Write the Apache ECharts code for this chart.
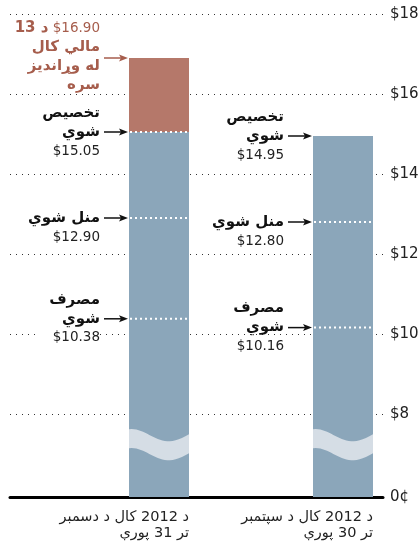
<!DOCTYPE html>
<html><head><meta charset="utf-8">
<script src="https://cdn.jsdelivr.net/npm/echarts@6/dist/echarts.min.js"></script>
<style>html,body{margin:0;padding:0;background:#fff}#c{width:420px;height:541px}</style>
</head><body><div id="c"></div>
<script>
// ---------------- data ----------------
const categories = ['د 2012 کال د دسمبر\nتر 31 پورې', 'د 2012 کال د سپتمبر\nتر 30 پورې'];
const allocated = [15.05, 14.95];   // تخصيص شوي
const accepted  = [12.90, 12.80];   // منل شوي
const spent     = [10.38, 10.16];   // مصرف شوي
const proposed  = [16.90, null];    // د 13 مالي کال له وړاندیز سره
const yTickValues = [8, 10, 12, 14, 16, 18];
const zeroLabel = '0¢';
const allocatedLines = ['تخصيص', 'شوي'];
const acceptedLines  = ['منل شوي'];
const spentLines     = ['مصرف', 'شوي'];
const proposedLines  = ['د 13', 'مالي کال', 'له وړاندیز', 'سره'];

// ---------------- style ----------------
const FONT = '"DejaVu Sans", sans-serif';
const BLUE = '#8ba6ba', RED = '#b5786a', RED_TEXT = '#a65d4c', BAND = '#d5dde5', INK = '#111';
const BAR_W = 60, LH = 19, TEXT_GAP = 29;
const AXIS_START = 5.925;      // value drawn where the (broken) axis reaches 0
const BAND_AT = 7.62;          // where the wavy break sits on the bars
const GRID_TOP = 14, GRID_BOTTOM = 44;

const money = v => '$' + v.toFixed(2);
const wrap = (st, lines) => lines.map(l => '{' + st + '|' + l + '}').join('\n');

// annotation rows built from the arrays above
const rows = [];
proposed.forEach((v, i) => { if (v != null) rows.push({cat: i, value: v, red: true, anchor: 1.55,
  text: '{rb|' + proposedLines[0] + '}{rn| ' + money(v) + '}\n' + wrap('rb', proposedLines.slice(1))}); });
allocated.forEach((v, i) => rows.push({cat: i, value: v, anchor: 1,
  text: wrap('b', allocatedLines) + '\n{n|' + money(v) + '}'}));
accepted.forEach((v, i) => rows.push({cat: i, value: v, anchor: 0,
  text: wrap('b', acceptedLines) + '\n{n|' + money(v) + '}'}));
spent.forEach((v, i) => rows.push({cat: i, value: v, anchor: 1,
  text: wrap('b', spentLines) + '\n{m|' + money(v) + '}'}));

// white dotted level lines inside the bars
const levels = [];
accepted.forEach((v, i) => levels.push([i, v]));
spent.forEach((v, i) => levels.push([i, v]));
proposed.forEach((v, i) => { if (v != null) levels.push([i, allocated[i]]); });

const rich = {
  b:  {fontFamily: FONT, fontWeight: 'bold', fontSize: 15, fill: INK, lineHeight: LH},
  n:  {fontFamily: FONT, fontSize: 13.5, fill: '#222', lineHeight: LH},
  m:  {fontFamily: FONT, fontSize: 13.5, fill: '#222', lineHeight: LH, backgroundColor: '#fff', padding: [0, 0, 0, 14]},
  rb: {fontFamily: FONT, fontWeight: 'bold', fontSize: 15, fill: RED_TEXT, lineHeight: LH},
  rn: {fontFamily: FONT, fontSize: 13.5, fill: RED_TEXT, lineHeight: LH}
};

function annotationItem(params, api) {
  const r = rows[params.dataIndex];
  const p = api.coord([r.cat, r.value]);
  const barLeft = p[0] - BAR_W / 2;
  const tx = barLeft - TEXT_GAP;
  const y = p[1];
  const c = r.red ? RED_TEXT : INK;
  return {type: 'group', children: [
    {type: 'line', shape: {x1: tx + 4, y1: y, x2: barLeft - 8, y2: y}, style: {stroke: c, lineWidth: 1.5}},
    {type: 'polygon', shape: {points: [[barLeft - 1, y], [barLeft - 10, y - 3.5], [barLeft - 8, y], [barLeft - 10, y + 3.5]]}, style: {fill: c}},
    {type: 'text', x: tx, y: y - (r.anchor + 0.5) * LH, style: {text: r.text, rich: rich, align: 'right', verticalAlign: 'top', fontFamily: FONT}}
  ]};
}

function levelItem(params, api) {
  const p = api.coord([api.value(0), api.value(1)]);
  return {type: 'line', shape: {x1: p[0] - BAR_W / 2 + 1, y1: p[1], x2: p[0] + BAR_W / 2, y2: p[1]},
    style: {stroke: '#fff', lineWidth: 2, lineDash: [2, 3]}};
}

function bez(t, a, b, c, d) { const u = 1 - t; return u*u*u*a + 3*u*u*t*b + 3*u*t*t*c + t*t*t*d; }
function bandItem(params, api) {
  const p = api.coord([api.value(0), api.value(1)]);
  const L = p[0] - BAR_W / 2, W = BAR_W, t0 = p[1], TH = 19;
  const top = [], bot = [];
  for (let k = 0; k <= 24; k++) {
    const t = k / 24;
    const x = bez(t, L, L + 0.35 * W, L + 0.5 * W, L + W);
    const y = bez(t, t0, t0 - 2, t0 + 24, t0 + 5);
    top.push([x, y]); bot.unshift([x, y + TH]);
  }
  return {type: 'polygon', shape: {points: top.concat(bot)}, style: {fill: BAND}};
}

const chart = echarts.init(document.getElementById('c'), null, {renderer: 'canvas'});
chart.setOption({
  animation: false,
  backgroundColor: '#fff',
  grid: [
    {left: 67, width: 368, top: GRID_TOP, bottom: GRID_BOTTOM, outerBoundsMode: 'none', containLabel: false},   // bars
    {left: 10, right: 37, top: GRID_TOP, bottom: GRID_BOTTOM, outerBoundsMode: 'none', containLabel: false},    // value axis + grid lines
    {left: 97, width: 368, top: GRID_TOP, bottom: GRID_BOTTOM, outerBoundsMode: 'none', containLabel: false}    // category labels
  ],
  xAxis: [
    {type: 'category', gridIndex: 0, data: categories, show: false},
    {type: 'value', gridIndex: 1, min: 0, max: 1, axisLabel: {show: false}, axisTick: {show: false}, splitLine: {show: false},
      axisLine: {show: true, onZero: false, lineStyle: {color: '#000', width: 3}}},
    {type: 'category', gridIndex: 2, data: categories, axisLine: {show: false}, axisTick: {show: false},
      axisLabel: {align: 'right', margin: 12, fontFamily: FONT, fontSize: 14.5, lineHeight: 16, color: '#222'}}
  ],
  yAxis: [
    {type: 'value', gridIndex: 0, min: AXIS_START, max: 18, show: false},
    {type: 'value', gridIndex: 1, position: 'right', min: AXIS_START, max: 18,
      axisLine: {show: false},
      axisTick: {show: false, customValues: [AXIS_START].concat(yTickValues)},
      splitLine: {show: true, lineStyle: {color: '#333', width: 1, type: [1, 5]}},
      axisLabel: {customValues: [AXIS_START].concat(yTickValues), margin: 7, fontFamily: FONT, fontSize: 15, color: '#222',
        formatter: v => v < yTickValues[0] ? zeroLabel : '$' + Math.round(v)}},
    {type: 'value', gridIndex: 2, show: false}
  ],
  series: [
    {type: 'bar', name: 'allocated', xAxisIndex: 0, yAxisIndex: 0, stack: 's', barWidth: BAR_W, data: allocated, itemStyle: {color: BLUE}, z: 2},
    {type: 'bar', name: 'proposed', xAxisIndex: 0, yAxisIndex: 0, stack: 's', barWidth: BAR_W,
      data: proposed.map((v, i) => v == null ? null : +(v - allocated[i]).toFixed(2)), itemStyle: {color: RED}, z: 2},
    {type: 'custom', xAxisIndex: 0, yAxisIndex: 0, renderItem: bandItem, data: categories.map((c, i) => [i, BAND_AT]), z: 3, silent: true},
    {type: 'custom', xAxisIndex: 0, yAxisIndex: 0, renderItem: levelItem, data: levels, z: 4, silent: true},
    {type: 'custom', xAxisIndex: 0, yAxisIndex: 0, renderItem: annotationItem, data: rows.map(r => [r.cat, r.value]), z: 5, silent: true, clip: false}
  ]
});
</script></body></html>
